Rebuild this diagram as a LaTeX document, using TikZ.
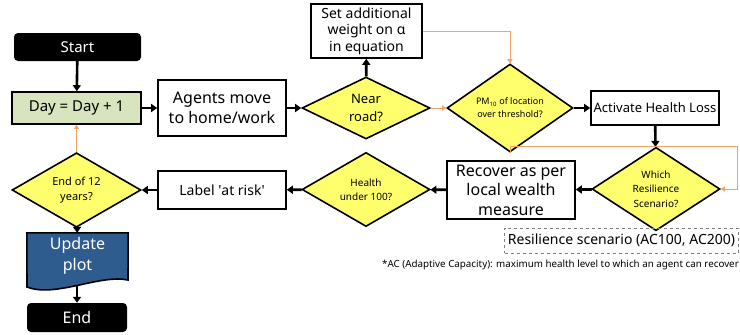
\documentclass[tikz,border=0pt]{standalone}
\usepackage{fontspec}
\setmainfont{Noto Sans}
\usetikzlibrary{shapes.geometric, arrows.meta, positioning, calc}
\definecolor{dayfill}{HTML}{D7E4BD}
\definecolor{diafill}{HTML}{FFFF6E}
\definecolor{plotblue}{HTML}{2F5C8E}
\definecolor{linkorange}{HTML}{F2A462}
\definecolor{dashgray}{HTML}{7F7F7F}

\begin{document}
\begin{tikzpicture}[x=1pt, y=-1pt,
  procbox/.style={rectangle, draw, line width=1.6pt, fill=white,
                  minimum width=128pt, inner sep=1pt, align=center,
                  font=\fontsize{15}{19}\selectfont},
  decision/.style={diamond, draw, line width=1.6pt, fill=diafill,
                   minimum width=128pt, minimum height=62pt, inner sep=0pt,
                   align=center, font=\fontsize{10}{14}\selectfont},
  terminal/.style={rectangle, rounded corners=4pt, fill=black, text=white,
                   minimum width=127pt, minimum height=28pt,
                   font=\fontsize{15}{18}\selectfont},
  arr/.style={-{Triangle[length=6pt, width=8pt]}, line width=2.6pt},
  oarr/.style={-{Triangle[length=4pt, width=5pt]}, line width=0.8pt,
               color=linkorange}
]
\useasboundingbox (0,0) rectangle (740,335);

% main row
\node[terminal] (start) at (77.5,47) {Start};
\node[procbox, fill=dayfill, minimum width=129pt, minimum height=32pt]
  (day) at (76.5,108) {Day = Day + 1};
\node[procbox, minimum height=56pt, font=\fontsize{16}{20}\selectfont]
  (agents) at (222,108) {Agents move\\to home/work};
\node[decision, font=\fontsize{13}{18}\selectfont] (nearroad) at (366,108)
  {Near\\road?};
\node[procbox, minimum width=111pt, minimum height=54pt,
      font=\fontsize{14}{16.5}\selectfont] (weight) at (366.5,31)
  {Set additional\\weight on α\\in equation};
\node[decision, minimum width=126pt, minimum height=61pt,
      font=\fontsize{9}{13}\selectfont] (pm) at (510,108)
  {PM\textsubscript{10} of location\\over threshold?};
\node[procbox, minimum height=34pt, font=\fontsize{13}{16}\selectfont]
  (loss) at (655,108) {Activate Health Loss};

% return row
\node[decision, minimum height=70pt, font=\fontsize{10}{14.5}\selectfont]
  (which) at (656,189) {Which\\Resilience\\Scenario?};
\node[procbox, minimum height=58pt, font=\fontsize{16}{19.5}\selectfont]
  (recover) at (511,190) {Recover as per\\local wealth\\measure};
\node[decision, minimum height=57pt] (health) at (366,189.5)
  {Health\\under 100?};
\node[procbox, minimum height=38pt, font=\fontsize{14}{17}\selectfont]
  (atrisk) at (222,190) {Label \textquotesingle at risk\textquotesingle};
\node[decision, minimum width=129pt, minimum height=56pt,
      font=\fontsize{11}{15}\selectfont] (endyears) at (76.5,190)
  {End of 12\\years?};

% output
\node[minimum width=101pt, minimum height=46pt, inner sep=0pt, align=center,
      text=white, font=\fontsize{16}{21}\selectfont] (update) at (77.5,256)
  {Update\\plot};
\fill[plotblue, draw=black, line width=1.6pt]
  (update.north west) -- (update.north east) -- (128,280)
  .. controls (100,274) and (55,298) .. (27,287) -- cycle;
\node[text=white, align=center, font=\fontsize{16}{21}\selectfont]
  at (update.center) {Update\\plot};
\coordinate (updbot) at (77,285);
\node[terminal, minimum width=100pt, minimum height=29pt,
      font=\fontsize{16}{18}\selectfont] (endnode) at (77,317.5) {End};

% notes
\node[draw=dashgray, dashed, line width=0.8pt, minimum width=229pt,
      minimum height=25pt, font=\fontsize{14}{16}\selectfont]
  (resil) at (621.5,240.5) {Resilience scenario (AC100, AC200)};
\node[anchor=east, inner sep=0pt, font=\fontsize{9.8}{12}\selectfont]
  (acnote) at (739,265)
  {*AC (Adaptive Capacity): maximum health level to which an agent can recover};

% connectors
\draw[arr] (start) -- (day);
\draw[arr] (day) -- (agents);
\draw[arr] (agents) -- (nearroad);
\draw[arr] (nearroad) -- (weight);
\draw[oarr] (nearroad) -- (pm);
\draw[oarr] (weight.east) -| (pm.north);
\draw[arr] (pm) -- (loss);
\draw[arr] (loss) -- (which);
\coordinate (bend) at (737,146);
\draw[oarr] (pm.south) |- (bend) |- (which.east);
\draw[arr] (which) -- (recover);
\draw[arr] (recover) -- (health);
\draw[arr] (health) -- (atrisk);
\draw[arr] (atrisk) -- (endyears);
\draw[oarr] (endyears.north) -- (day.south);
\draw[arr] (endyears) -- (update);
\draw[arr] (updbot) -- (endnode);

\end{tikzpicture}
\end{document}
